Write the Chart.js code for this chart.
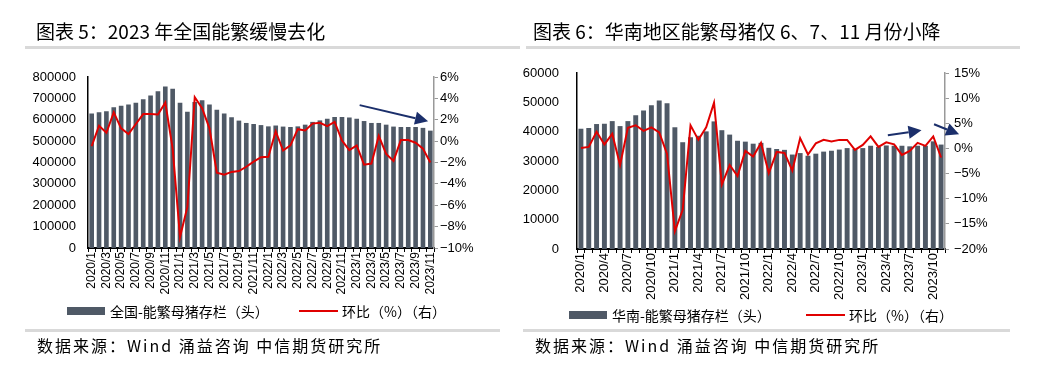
<!DOCTYPE html>
<html>
<head>
<meta charset="utf-8">
<script src="https://cdn.jsdelivr.net/npm/chart.js@4.4.1/dist/chart.umd.min.js"></script>
<style>
  body { margin: 0; background: #fff; width: 1038px; height: 376px; position: relative; overflow: hidden;
         font-family: "Noto Sans CJK SC", sans-serif; color: #000; }
  canvas { position: absolute; top: 0; }
  .title { position: absolute; top: 19px; font-size: 19px; line-height: 24px; white-space: nowrap; }
  .rule { position: absolute; height: 3px; background: #d9d9d9; }
  .src { position: absolute; top: 335px; font-size: 16px; line-height: 20px; letter-spacing: 2px; white-space: nowrap; }
  .lg { position: absolute; font-size: 14px; line-height: 18px; white-space: nowrap; }
  .lbox { position: absolute; height: 8px; width: 38px; background: #4f5966; }
  .lline { position: absolute; height: 2px; width: 39px; background: #e00000; }
</style>
</head>
<body>
<canvas id="c1" width="519" height="376" style="left:0"></canvas>
<canvas id="c2" width="519" height="376" style="left:519px"></canvas>

<div class="title" style="left:36px">图表 5：2023 年全国能繁缓慢去化</div>
<div class="rule" style="left:25px; top:46px; width:495px"></div>
<div class="title" style="left:533px">图表 6：华南地区能繁母猪仅 6、7、11 月份小降</div>
<div class="rule" style="left:526px; top:46px; width:494px"></div>

<div class="lbox" style="left:67px; top:307px"></div>
<div class="lg" style="left:110px; top:302px">全国-能繁母猪存栏（头）</div>
<div class="lline" style="left:299px; top:310px"></div>
<div class="lg" style="left:342px; top:302px">环比（%）（右）</div>

<div class="lbox" style="left:569px; top:311px"></div>
<div class="lg" style="left:612px; top:306px">华南-能繁母猪存栏（头）</div>
<div class="lline" style="left:806px; top:314px"></div>
<div class="lg" style="left:849px; top:306px">环比（%）（右）</div>

<div class="rule" style="left:25px; top:329px; width:475px"></div>
<div class="src" style="left:37px">数据来源：Wind 涌益咨询 中信期货研究所</div>
<div class="rule" style="left:523px; top:329px; width:487px"></div>
<div class="src" style="left:535px">数据来源：Wind 涌益咨询 中信期货研究所</div>

<script>
// months 2020/1 .. 2023/11
const months = [];
for (let y = 2020; y <= 2023; y++) {
  for (let m = 1; m <= 12; m++) {
    if (y === 2023 && m > 11) break;
    months.push(y + '/' + m);
  }
}

// 全国 能繁母猪存栏（头）
const natSows = [629000,635000,640000,658000,666000,671000,680000,696000,714000,733000,756000,745000,
  679000,638000,683000,691000,671000,647000,629000,612000,596000,585000,580000,575000,
  569000,573000,568000,566000,569000,577000,590000,597000,605000,613000,613000,610000,
  605000,594000,585000,585000,577000,568000,566000,566000,566000,562000,549000];
// 全国 环比（%）
const natMom = [-0.47,1.44,0.78,2.69,1.19,0.66,1.6,2.53,2.53,2.5,3.6,-0.7,
  -8.97,-6.16,4.1,3.08,1.2,-2.96,-3.15,-2.88,-2.8,-2.4,-1.92,-1.5,
  -1.47,0.92,-0.88,-0.4,1.12,1.0,1.64,1.72,1.4,1.8,0.05,-0.85,
  -0.4,-2.2,-2.1,0.5,-1.2,-1.85,0.1,0.1,-0.15,-0.7,-2.0];

// 华南 能繁母猪存栏（头）
const scSows = [41000,41250,42600,42700,43600,41900,43600,45600,47200,49000,50600,49700,
  41500,36400,38100,38600,40100,43500,40500,39000,36900,36600,35900,36200,
  34500,34100,33800,32200,32700,31800,32500,33200,33500,33900,34400,34100,
  34400,35200,34800,35300,35200,35200,35000,35200,35200,36700,35600];
// 华南 环比（%）
const scMom = [0.1,0.3,3.3,0.8,2.9,-3.3,4.1,4.6,3.5,4.2,3.2,-1.1,
  -16.5,-12.2,4.6,1.7,4.2,9.1,-7.2,-3.3,-5.5,-0.5,-1.6,1.1,
  -4.9,-0.7,-0.9,-4.4,2.05,-1.2,1.0,1.7,1.4,1.7,1.7,-0.3,
  0.7,2.4,0.3,1.2,0.8,-1.3,-0.5,1.1,0.5,2.4,-1.8];

// trend arrows, in (category index, %) on the right axis
const natArrows = [[[36.4, 3.37], [45.7, 1.87]]];
const scArrows = [[[39.2, 2.6], [43.5, 3.6]], [[45.1, 4.8], [48.3, 2.8]]];

Chart.defaults.font.family = "'Liberation Sans', Arial, sans-serif";
Chart.defaults.color = '#000';
Chart.defaults.animation = false;

const arrowPlugin = {
  id: 'arrows',
  afterDatasetsDraw(chart, args, opts) {
    const ctx = chart.ctx, xs = chart.scales.x, ys = chart.scales.y1;
    ctx.save();
    ctx.strokeStyle = ctx.fillStyle = '#1b2f6b';
    ctx.lineWidth = 2;
    (opts.list || []).forEach(a => {
      const x0 = xs.getPixelForValue(a[0][0]), y0 = ys.getPixelForValue(a[0][1]);
      const x1 = xs.getPixelForValue(a[1][0]), y1 = ys.getPixelForValue(a[1][1]);
      const ang = Math.atan2(y1 - y0, x1 - x0), L = 13, W = 6.5;
      const bx = x1 - L * Math.cos(ang), by = y1 - L * Math.sin(ang);
      ctx.beginPath(); ctx.moveTo(x0, y0); ctx.lineTo(bx, by); ctx.stroke();
      ctx.beginPath();
      ctx.moveTo(x1, y1);
      ctx.lineTo(bx + W * Math.sin(ang), by - W * Math.cos(ang));
      ctx.lineTo(bx - W * Math.sin(ang), by + W * Math.cos(ang));
      ctx.closePath(); ctx.fill();
    });
    ctx.restore();
  }
};

function makeChart(id, bars, line, cfg) {
  return new Chart(document.getElementById(id), {
    data: {
      labels: months,
      datasets: [
        { type: 'line', data: line, yAxisID: 'y1', borderColor: '#e00000', borderWidth: 2,
          pointRadius: 0, tension: 0, order: 0 },
        { type: 'bar', data: bars, yAxisID: 'y', backgroundColor: '#4f5966',
          barPercentage: 0.7, categoryPercentage: 0.9, order: 1 }
      ]
    },
    plugins: [arrowPlugin],
    options: {
      responsive: false,
      layout: { padding: cfg.padding },
      plugins: { legend: { display: false }, tooltip: { enabled: false }, arrows: { list: cfg.arrows } },
      scales: {
        x: {
          grid: { display: true, offset: true, drawOnChartArea: false, tickLength: 4, color: '#000' },
          border: { color: '#000', width: 2 },
          ticks: {
            autoSkip: false, minRotation: 90, maxRotation: 90, padding: 0,
            font: { size: cfg.xFont },
            callback: (v, i) => i % cfg.step === 0 ? months[i] : ''
          },
          afterFit: s => { s.height = 60; }
        },
        y: {
          position: 'left', min: 0, max: cfg.yMax,
          grid: { display: false, drawTicks: false },
          border: { color: '#000', width: 1.5 },
          ticks: { stepSize: cfg.yStep, padding: cfg.yPad, font: { size: 13 }, callback: v => String(v) },
          afterFit: s => { s.width = cfg.yWidth; }
        },
        y1: {
          position: 'right', min: cfg.pMin, max: cfg.pMax,
          grid: { display: true, drawOnChartArea: false, tickLength: 4, color: '#999' },
          border: { color: '#999', width: 1.5 },
          ticks: { stepSize: cfg.pStep, padding: cfg.pPad, font: { size: 13 },
                   callback: v => (v < 0 ? '\u2212' + (-v) : v) + '%' },
          afterFit: s => { s.width = 50; }
        }
      }
    }
  });
}

makeChart('c1', natSows, natMom, {
  padding: { left: 20, top: 77, right: 35, bottom: 68 },
  yMax: 800000, yStep: 100000, yWidth: 68, yPad: 12,
  pMin: -10, pMax: 6, pStep: 2, pPad: 2,
  step: 2, xFont: 12, arrows: natArrows
});

makeChart('c2', scSows, scMom, {
  padding: { left: 0, top: 73, right: 43, bottom: 67 },
  yMax: 60000, yStep: 10000, yWidth: 58, yPad: 18,
  pMin: -20, pMax: 15, pStep: 5, pPad: 5,
  step: 3, xFont: 13, arrows: scArrows
});
</script>
</body>
</html>
